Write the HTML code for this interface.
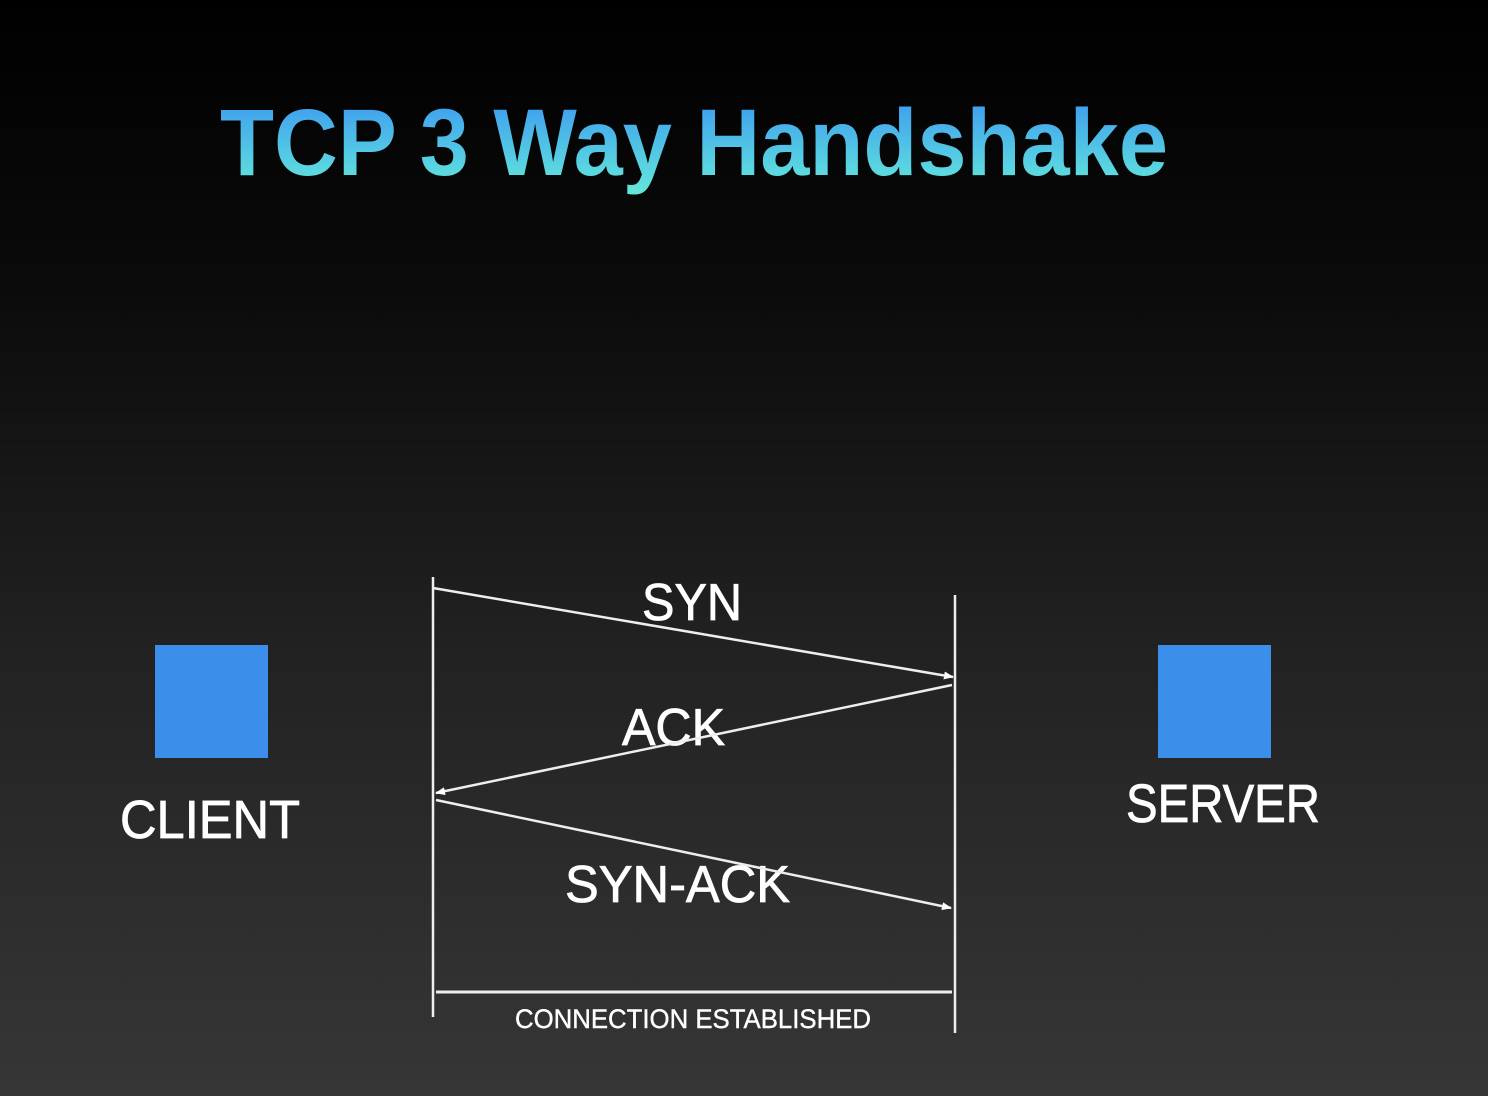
<!DOCTYPE html>
<html><head><style>
html,body{margin:0;padding:0;width:1488px;height:1096px;overflow:hidden;}
body{background:linear-gradient(#000 0%,#0a0a0a 25%,#222 60%,#363636 100%);}
</style></head><body>
<svg width="1488" height="1096" xmlns="http://www.w3.org/2000/svg" style="position:absolute;left:0;top:0">
<defs>
<linearGradient id="tg" x1="0" y1="0" x2="0" y2="1">
<stop offset="0" stop-color="#3a94f2"/><stop offset="0.75" stop-color="#5ad6e0"/><stop offset="1" stop-color="#66e6d8"/>
</linearGradient>
<marker id="ah" markerWidth="10" markerHeight="8" refX="9" refY="4" orient="auto" markerUnits="userSpaceOnUse">
<path d="M0,0 L10,4 L0,8 z" fill="#fff"/>
</marker>
</defs>
<text x="220" y="175" font-family="Liberation Sans, sans-serif" font-weight="bold" font-size="95" fill="url(#tg)" textLength="948" lengthAdjust="spacingAndGlyphs">TCP 3 Way Handshake</text>
<rect x="155" y="645" width="113" height="113" fill="#3b8eea"/>
<rect x="1158" y="645" width="113" height="113" fill="#3b8eea"/>
<g font-family="Liberation Sans, sans-serif" fill="#fff" stroke="#fff" stroke-width="0.8">
<text x="120" y="838" font-size="54" textLength="180" lengthAdjust="spacingAndGlyphs">CLIENT</text>
<text x="1126" y="822" font-size="54" textLength="194" lengthAdjust="spacingAndGlyphs">SERVER</text>
<text x="642" y="620" font-size="52" textLength="100" lengthAdjust="spacingAndGlyphs">SYN</text>
<text x="622" y="745" font-size="52" textLength="103" lengthAdjust="spacingAndGlyphs">ACK</text>
<text x="565" y="902" font-size="52" textLength="225" lengthAdjust="spacingAndGlyphs">SYN-ACK</text>
<text x="515" y="1028" font-size="27" stroke-width="0.4" textLength="356" lengthAdjust="spacingAndGlyphs">CONNECTION ESTABLISHED</text>
</g>
<g stroke="#eee" stroke-width="2.5" fill="none">
<line x1="433" y1="577" x2="433" y2="1017"/>
<line x1="955" y1="595" x2="955" y2="1033"/>
<line x1="433" y1="588" x2="953" y2="677" marker-end="url(#ah)"/>
<line x1="952" y1="685" x2="436" y2="793" marker-end="url(#ah)"/>
<line x1="436" y1="800" x2="951" y2="908" marker-end="url(#ah)"/>
<line x1="436" y1="992" x2="952" y2="992" stroke-width="3"/>
</g>
</svg>
</body></html>
